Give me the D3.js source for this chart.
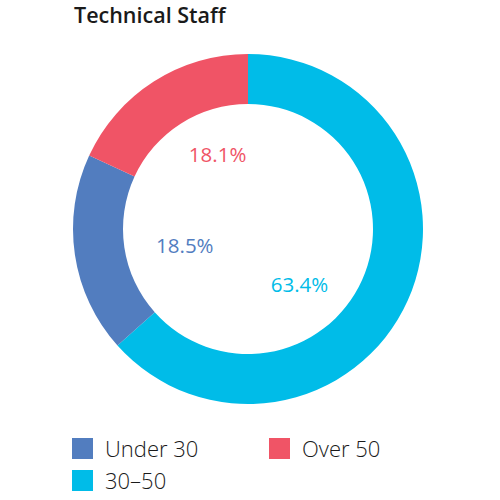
<!DOCTYPE html>
<html>
<head>
<meta charset="utf-8">
<script src="https://cdn.jsdelivr.net/npm/d3@7"></script>
<style>
  html, body { margin: 0; padding: 0; background: #fff; }
  svg { display: block; font-family: "Open Sans", Lato, sans-serif; }
</style>
</head>
<body>
<svg id="chart" width="500" height="500"></svg>
<script>
// ---- data ----
const categories = ["30–50", "Under 30", "Over 50"];
const values = [63.4, 18.5, 18.1];
const colors = ["#00BCE8", "#527DBF", "#F05466"];
const legendOrder = ["Under 30", "Over 50", "30–50"];
const title = "Technical Staff";

// ---- layout ----
const cx = 248, cy = 229, outerR = 175, innerR = 125, labelR = 75;
const labelNudge = [[-17, 24], [11, 5], [10, -12]];

const svg = d3.select("#chart");
const color = d3.scaleOrdinal().domain(categories).range(colors);

svg.append("text")
  .attr("x", 74).attr("y", 23)
  .attr("font-size", 21.5).attr("font-weight", 600)
  .attr("fill", "#1a1a1a")
  .text(title);

const pie = d3.pie().sort(null).value(d => d.value);
const data = categories.map((c, i) => ({ cat: c, value: values[i] }));
const arcs = pie(data);
const arc = d3.arc().innerRadius(innerR).outerRadius(outerR);
const labelArc = d3.arc().innerRadius(labelR).outerRadius(labelR);

const g = svg.append("g").attr("transform", `translate(${cx},${cy})`);
g.selectAll("path").data(arcs).join("path")
  .attr("d", arc)
  .attr("fill", d => color(d.data.cat));

g.selectAll("text.lbl").data(arcs).join("text")
  .attr("class", "lbl")
  .attr("transform", (d, i) => {
    const [x, y] = labelArc.centroid(d);
    return `translate(${x + labelNudge[i][0]},${y + labelNudge[i][1]})`;
  })
  .attr("text-anchor", "middle")
  .attr("dominant-baseline", "central")
  .attr("font-size", 20.5)
  .attr("font-weight", 500)
  .attr("fill", d => color(d.data.cat))
  .text(d => d3.format(".1f")(d.data.value) + "%");

// legend
const legendPos = [[72, 438], [269, 438], [72, 470]];
const lg = svg.selectAll("g.leg").data(legendOrder).join("g")
  .attr("class", "leg")
  .attr("transform", (d, i) => `translate(${legendPos[i][0]},${legendPos[i][1]})`);
lg.append("rect").attr("width", 21).attr("height", 21).attr("fill", d => color(d));
lg.append("text")
  .attr("x", 33).attr("y", 18.5)
  .attr("font-size", 22).attr("font-weight", 300)
  .attr("fill", "#1a1a1a")
  .text(d => d);
</script>
</body>
</html>
